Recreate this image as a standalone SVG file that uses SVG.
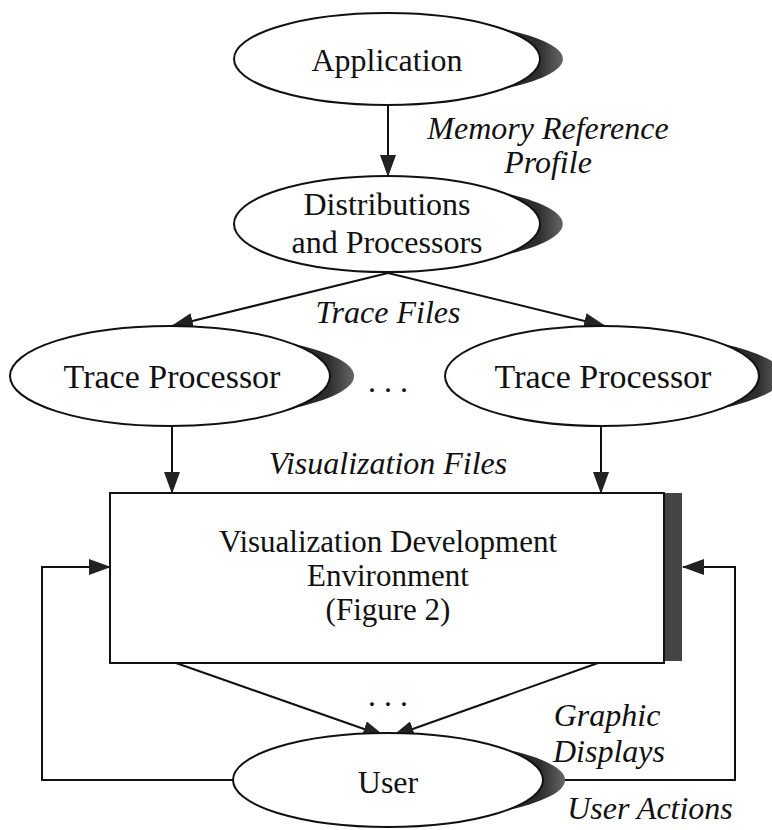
<svg xmlns="http://www.w3.org/2000/svg" width="772" height="830" viewBox="0 0 772 830">
<style>
.node{fill:#fff;stroke:#111;stroke-width:2}
.shadow{fill:url(#sg)}
.t{font-family:"Liberation Serif","Times New Roman",serif;font-size:32px;fill:#111;text-anchor:middle}
.tp{font-size:34px}
.vd{font-size:31px}
.lbl{font-family:"Liberation Serif","Times New Roman",serif;font-size:32px;font-style:italic;fill:#111;text-anchor:middle}
.c{fill:none;stroke:#111;stroke-width:2}
</style>
<defs>
<linearGradient id="sg" x1="0" y1="0" x2="1" y2="0">
<stop offset="0" stop-color="#222"/>
<stop offset="0.6" stop-color="#2e2e2e"/>
<stop offset="1" stop-color="#666"/>
</linearGradient>
<marker id="ah" viewBox="0 0 22 16" refX="21" refY="8" markerWidth="22" markerHeight="16" markerUnits="userSpaceOnUse" orient="auto">
<path d="M0,0 L22,8 L0,16 z" fill="#222"/>
</marker>
</defs>
<rect width="772" height="830" fill="#fff"/>
<g id="connectors">
<line class="c" x1="388" y1="105" x2="388" y2="176" marker-end="url(#ah)"/>
<line class="c" x1="388" y1="273" x2="172" y2="326" marker-end="url(#ah)"/>
<line class="c" x1="388" y1="273" x2="605" y2="326" marker-end="url(#ah)"/>
<line class="c" x1="172" y1="426" x2="172" y2="493" marker-end="url(#ah)"/>
<line class="c" x1="601" y1="426" x2="601" y2="493" marker-end="url(#ah)"/>
<line class="c" x1="176" y1="663" x2="384" y2="736" marker-end="url(#ah)"/>
<line class="c" x1="598" y1="663" x2="393" y2="736" marker-end="url(#ah)"/>
<polyline class="c" points="235,780 42,780 42,567 110,567" marker-end="url(#ah)"/>
<polyline class="c" points="560,780 735,780 735,567 683,567" marker-end="url(#ah)"/>
</g>
<g id="application">
<path class="shadow" d="M501.8,28.6 A245,46 0 0 1 501.8,89.4 Z"/>
<ellipse class="node" cx="387" cy="59" rx="153" ry="46"/>
<text class="t" x="387" y="71">Application</text>
</g>
<g id="distributions">
<path class="shadow" d="M501.8,192.3 A245,48 0 0 1 501.8,255.7 Z"/>
<ellipse class="node" cx="387" cy="224" rx="153" ry="48"/>
<text class="t" x="387" y="215">Distributions</text>
<text class="t" x="387" y="253">and Processors</text>
</g>
<g id="trace1">
<path class="shadow" d="M290,342.9 A256,50 0 0 1 290,409.1 Z"/>
<ellipse class="node" cx="170" cy="376" rx="160" ry="50"/>
<text class="t tp" x="172" y="388">Trace Processor</text>
</g>
<g id="trace2">
<path class="shadow" d="M719.75,342.9 A253,50 0 0 1 719.75,409.1 Z"/>
<ellipse class="node" cx="602" cy="376" rx="157" ry="50"/>
<text class="t tp" x="603" y="388">Trace Processor</text>
</g>
<g id="vde">
<rect x="664" y="493" width="18" height="168" fill="#444"/>
<rect class="node" x="110" y="493" width="554" height="170"/>
<text class="t vd" x="388" y="552">Visualization Development</text>
<text class="t vd" x="388" y="586">Environment</text>
<text class="t vd" x="388" y="620">(Figure 2)</text>
</g>
<g id="user">
<path class="shadow" d="M504.25,748.9 A243,47 0 0 1 504.25,811.1 Z"/>
<ellipse class="node" cx="388" cy="780" rx="155" ry="47"/>
<text class="t" x="388" y="793">User</text>
</g>
<g id="labels">
<text class="lbl" x="548" y="139">Memory Reference</text>
<text class="lbl" x="548" y="173">Profile</text>
<text class="lbl" x="388" y="323">Trace Files</text>
<text class="lbl" x="388" y="474">Visualization Files</text>
<text class="lbl" x="607" y="726">Graphic</text>
<text class="lbl" x="609" y="762">Displays</text>
<text class="lbl" x="650" y="819">User Actions</text>
<text class="t" x="388" y="392">. . .</text>
<text class="t" x="388" y="706">. . .</text>
</g>
</svg>
